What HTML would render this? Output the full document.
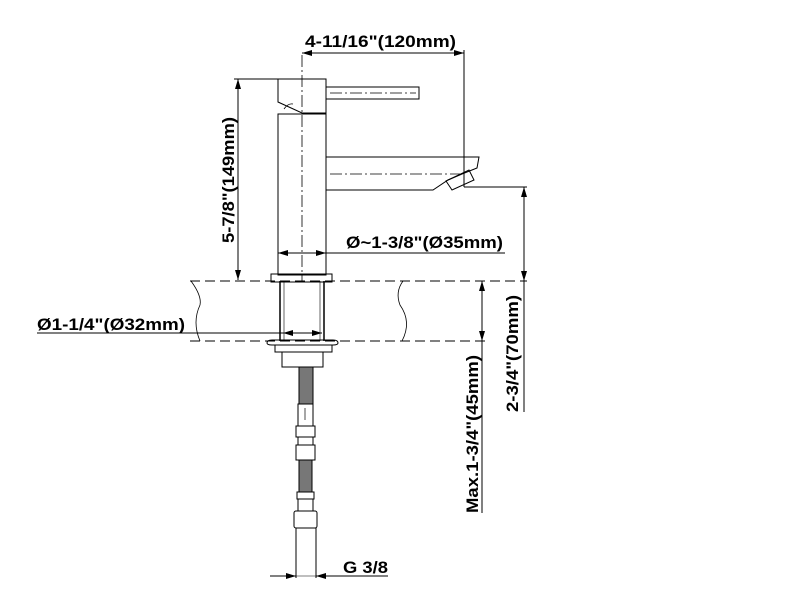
<!DOCTYPE html>
<html><head><meta charset="utf-8"><style>
html,body{margin:0;padding:0;background:#fff;width:800px;height:613px;overflow:hidden}
text{font-family:"Liberation Sans",Arial,sans-serif;font-weight:bold;font-size:17px;fill:#000}
</style></head><body>
<svg width="800" height="613" viewBox="0 0 800 613" xmlns="http://www.w3.org/2000/svg">
<defs>
<marker id="a" viewBox="0 0 10 6" refX="10" refY="3" markerWidth="10" markerHeight="6" orient="auto-start-reverse" markerUnits="userSpaceOnUse">
<path d="M0,0 L10,3 L0,6 z" fill="#000"/></marker>
</defs>
<g stroke="#000" stroke-width="1" fill="none">
<line x1="302" y1="55" x2="302" y2="282" stroke-dasharray="12,3,2,3" stroke-width="0.8"/>
<line x1="302" y1="53" x2="464" y2="53" marker-start="url(#a)" marker-end="url(#a)"/>
<line x1="464" y1="50" x2="464" y2="187"/>
<path d="M278,79 H326 V113 H302 L278,102 Z"/>
<path d="M284,109 Q288,103 293,104" stroke-width="0.8"/>
<rect x="326" y="87" width="93" height="12"/>
<line x1="330" y1="93" x2="416" y2="93" stroke-dasharray="12,3,2,3" stroke-width="0.8"/>
<rect x="278" y="114" width="48" height="161"/>
<path d="M326,157 H479 L477,168 L462,174 L448,180 L433,190 H326"/>
<path d="M446,181 L469,170 L474,180 L452,190 Z"/>
<line x1="330" y1="174" x2="460" y2="174" stroke-dasharray="12,3,2,3" stroke-width="0.8"/>
<line x1="464" y1="187" x2="527" y2="187"/>
<line x1="234" y1="79" x2="278" y2="79"/>
<line x1="238" y1="79" x2="238" y2="280" marker-start="url(#a)" marker-end="url(#a)"/>
<line x1="278" y1="253" x2="326" y2="253" marker-start="url(#a)" marker-end="url(#a)"/>
<line x1="326" y1="253" x2="505" y2="253"/>
<rect x="271" y="274" width="61" height="8"/>
<line x1="524" y1="187" x2="524" y2="281" marker-start="url(#a)" marker-end="url(#a)"/>
<line x1="524" y1="281" x2="524" y2="412"/>
<line x1="190" y1="281" x2="527" y2="281" stroke-dasharray="10,5"/>
<line x1="190" y1="341" x2="485" y2="341" stroke-dasharray="10,5"/>
<path d="M191,281 Q202,296 200,305 Q192,322 200,341" stroke-width="0.8"/>
<path d="M403,281 Q395,292 400,305 Q412,322 402,341" stroke-width="0.8"/>
<line x1="280" y1="281" x2="280" y2="341" stroke-width="1.5"/>
<line x1="324" y1="281" x2="324" y2="341" stroke-width="1.5"/>
<line x1="284" y1="281" x2="284" y2="341" stroke-width="0.6"/>
<line x1="320" y1="281" x2="320" y2="341" stroke-width="0.6"/>
<line x1="37" y1="333" x2="283" y2="333"/>
<line x1="283" y1="333" x2="322" y2="333" marker-start="url(#a)" marker-end="url(#a)"/>
<line x1="482" y1="281" x2="482" y2="341" marker-start="url(#a)" marker-end="url(#a)"/>
<line x1="482" y1="341" x2="482" y2="513"/>
<path d="M267,343 Q267,340 272,340 H333 Q338,340 338,343 Q338,345 333,345 H272 Q267,345 267,343 Z"/>
<rect x="275" y="345" width="57" height="7"/>
<rect x="282" y="352" width="41" height="15"/>
<rect x="299" y="367" width="14" height="37" fill="#777" stroke="#000"/>
<rect x="298" y="404" width="15" height="22"/>
<line x1="305" y1="408" x2="305" y2="420" stroke-width="0.7"/>
<rect x="296" y="426" width="19" height="11"/>
<rect x="298" y="437" width="15" height="8"/>
<rect x="296" y="445" width="19" height="15"/>
<rect x="299" y="460" width="13" height="32" fill="#777"/>
<rect x="297" y="492" width="17" height="7"/>
<rect x="298" y="499" width="15" height="12"/>
<rect x="294" y="511" width="23" height="17" rx="2"/>
<line x1="296" y1="528" x2="296" y2="578"/>
<line x1="316" y1="528" x2="316" y2="578"/>
<line x1="296" y1="528" x2="316" y2="528"/>
<line x1="270" y1="576" x2="296" y2="576" marker-end="url(#a)"/>
<line x1="296" y1="576" x2="316" y2="576" stroke-width="0.6"/>
<line x1="342" y1="576" x2="316" y2="576" marker-end="url(#a)"/>
<line x1="342" y1="576" x2="388" y2="576"/>
</g>
<text x="305" y="47" textLength="151" lengthAdjust="spacingAndGlyphs">4-11/16"(120mm)</text>
<text x="346" y="248" textLength="157" lengthAdjust="spacingAndGlyphs">Ø~1-3/8"(Ø35mm)</text>
<text x="37" y="330" textLength="148" lengthAdjust="spacingAndGlyphs">Ø1-1/4"(Ø32mm)</text>
<text x="343" y="573" textLength="45" lengthAdjust="spacingAndGlyphs">G 3/8</text>
<text transform="translate(234,243) rotate(-90)" textLength="126" lengthAdjust="spacingAndGlyphs">5-7/8"(149mm)</text>
<text transform="translate(518,412) rotate(-90)" textLength="117" lengthAdjust="spacingAndGlyphs">2-3/4"(70mm)</text>
<text transform="translate(478,513) rotate(-90)" textLength="158" lengthAdjust="spacingAndGlyphs">Max.1-3/4"(45mm)</text>
</svg>
</body></html>
